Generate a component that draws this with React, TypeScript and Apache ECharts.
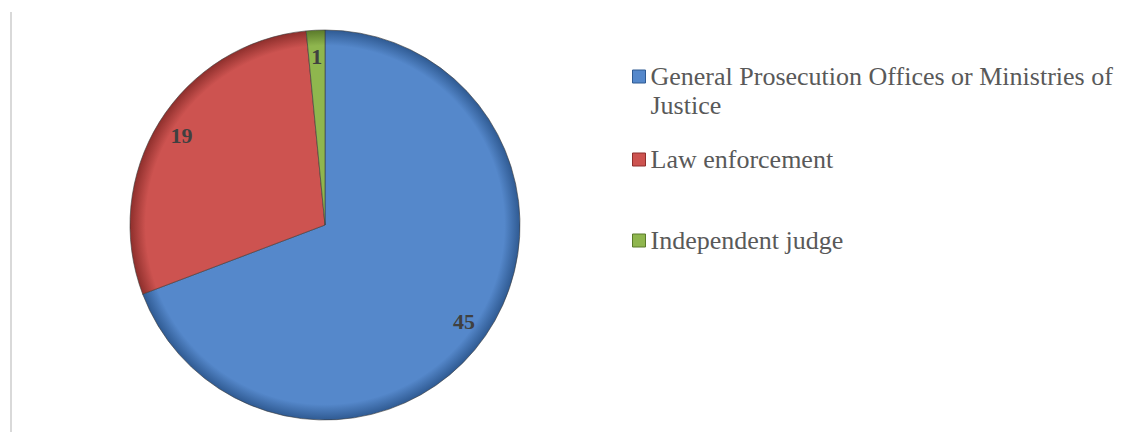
import React, { useEffect, useRef } from "react";
import * as echarts from "echarts";

const categories = [
  "General Prosecution Offices or Ministries of Justice",
  "Law enforcement",
  "Independent judge",
];
const values = [45, 19, 1];
const colors = ["#5588cb", "#cd5350", "#8fb64e"];
const rimColors = ["#2f5a92", "#8e2f2c", "#5a7a2a"];
const legendLabels = [
  "General Prosecution Offices or Ministries of\nJustice",
  "Law enforcement",
  "Independent judge",
];

export default function App() {
  const ref = useRef<HTMLDivElement>(null);
  useEffect(() => {
    if (!ref.current) return;
    const chart = echarts.init(ref.current, undefined, { renderer: "svg" });
    const cx = 325, cy = 225, R = 195;
    const grad = (i: number) =>
      new echarts.graphic.RadialGradient(cx, cy, R, [
        { offset: 0, color: colors[i] },
        { offset: 0.92, color: colors[i] },
        { offset: 1, color: rimColors[i] },
      ], true);
    const font = "'Liberation Serif', 'DejaVu Serif', serif";
    const legendTops = [57, 140, 221];
    chart.setOption({
      animation: false,
      backgroundColor: "#ffffff",
      legend: categories.map((c, i) => ({
        orient: "vertical",
        left: 627,
        top: legendTops[i],
        icon: i === 0 ? "path://M0,0h13v13h-13z M0,42" : "rect",
        itemWidth: 13,
        itemHeight: i === 0 ? 42 : 13,
        itemGap: 4,
        selectedMode: false,
        data: [{ name: c, itemStyle: { color: colors[i], borderColor: rimColors[i], borderWidth: 1 } }],
        formatter: () => legendLabels[i],
        textStyle: {
          fontFamily: font,
          fontSize: 26,
          color: "#595959",
          lineHeight: 29,
        },
      })),
      graphic: [
        {
          type: "line",
          shape: { x1: 11, y1: 12, x2: 11, y2: 432 },
          style: { stroke: "#d9d9d9", lineWidth: 2 },
          silent: true,
        },
      ],
      series: [
        {
          type: "pie",
          center: [cx, cy],
          radius: R,
          startAngle: 90,
          clockwise: true,
          label: { show: false },
          labelLine: { show: false },
          emphasis: { disabled: true },
          data: categories.map((c, i) => ({
            name: c,
            value: values[i],
            itemStyle: { color: grad(i), borderColor: "rgba(60,60,60,0.6)", borderWidth: 1 },
          })),
        },
        {
          type: "pie",
          center: [cx, cy],
          radius: [140, 192],
          startAngle: 90,
          clockwise: true,
          silent: true,
          itemStyle: { color: "rgba(0,0,0,0)" },
          label: {
            show: true,
            position: "inside",
            formatter: "{c}",
            fontFamily: font,
            fontWeight: "bold",
            fontSize: 22,
            color: "#404040",
          },
          labelLine: { show: false },
          emphasis: { disabled: true },
          data: categories.map((c, i) => ({ name: c, value: values[i] })),
        },
      ],
    });
    return () => chart.dispose();
  }, []);
  return (
    <div
      ref={ref}
      style={{ position: "fixed", left: 0, top: 0, width: 1131, height: 432 }}
    />
  );
}
